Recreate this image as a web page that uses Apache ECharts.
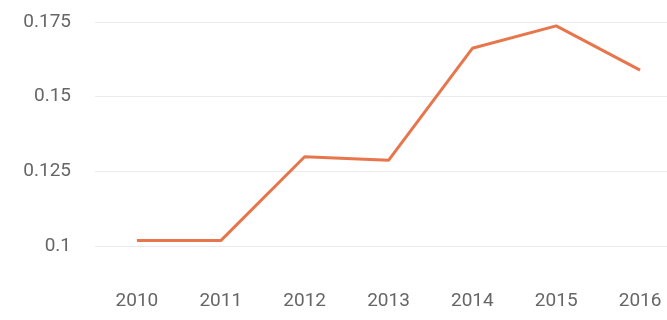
<!DOCTYPE html>
<html><head><meta charset="utf-8">
<script src="https://cdn.jsdelivr.net/npm/echarts@6/dist/echarts.min.js"></script>
<style>html,body{margin:0;padding:0;background:#fff;overflow:hidden}#c{width:684px;height:320px}</style>
</head><body><div id="c"></div>
<script>
const categories = ['2010','2011','2012','2013','2014','2015','2016'];
const values = [0.1018, 0.1018, 0.1299, 0.1287, 0.1662, 0.1737, 0.1589];
const yTicks = [0.1, 0.125, 0.15, 0.175];

const chart = echarts.init(document.getElementById('c'), null, {renderer:'canvas'});
chart.setOption({
  animation:false,
  grid:{left:95, right:2, top:22, bottom:74, containLabel:false},
  xAxis:{type:'category', data:categories, boundaryGap:true,
    axisLine:{show:false}, axisTick:{show:false},
    axisLabel:{margin:46, color:'#666', fontSize:19, fontFamily:'Roboto'}},
  yAxis:{type:'value', min:yTicks[0], max:yTicks[yTicks.length-1], interval:0.025,
    axisLine:{show:false}, axisTick:{show:false},
    splitLine:{lineStyle:{color:'#ebebeb', width:1}},
    axisLabel:{margin:24, color:'#666', fontSize:19, fontFamily:'Roboto',
      formatter:v=>String(+v.toFixed(3))}},
  series:[{type:'line', data:values, showSymbol:false, symbol:'none',
    lineStyle:{color:'#e8764c', width:3}}]
});
</script></body></html>
